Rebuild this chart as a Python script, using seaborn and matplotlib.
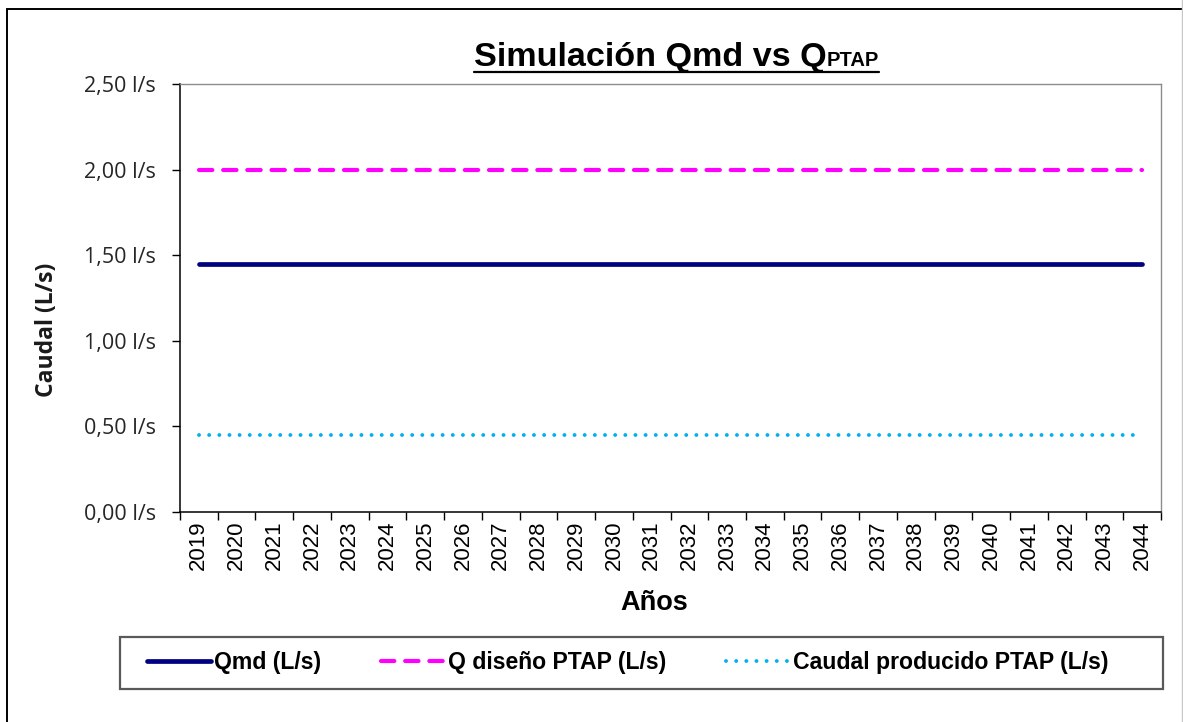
import numpy as np
import pandas as pd
import matplotlib
matplotlib.use("Agg")
import matplotlib.pyplot as plt
import seaborn as sns
from matplotlib.lines import Line2D
from matplotlib.patches import Rectangle
from matplotlib.ticker import FuncFormatter

# datos
years = [2019, 2020, 2021, 2022, 2023, 2024, 2025, 2026, 2027, 2028, 2029, 2030, 2031,
         2032, 2033, 2034, 2035, 2036, 2037, 2038, 2039, 2040, 2041, 2042, 2043, 2044]
qmd = [1.45, 1.45, 1.45, 1.45, 1.45, 1.45, 1.45, 1.45, 1.45, 1.45, 1.45, 1.45, 1.45,
       1.45, 1.45, 1.45, 1.45, 1.45, 1.45, 1.45, 1.45, 1.45, 1.45, 1.45, 1.45, 1.45]
q_diseno = [2.00, 2.00, 2.00, 2.00, 2.00, 2.00, 2.00, 2.00, 2.00, 2.00, 2.00, 2.00, 2.00,
            2.00, 2.00, 2.00, 2.00, 2.00, 2.00, 2.00, 2.00, 2.00, 2.00, 2.00, 2.00, 2.00]
q_producido = [0.45, 0.45, 0.45, 0.45, 0.45, 0.45, 0.45, 0.45, 0.45, 0.45, 0.45, 0.45, 0.45,
               0.45, 0.45, 0.45, 0.45, 0.45, 0.45, 0.45, 0.45, 0.45, 0.45, 0.45, 0.45, 0.45]
series_names = ["Qmd (L/s)", "Q diseño PTAP (L/s)", "Caudal producido PTAP (L/s)"]
y_ticks = [0.0, 0.5, 1.0, 1.5, 2.0, 2.5]

sns.set_theme(style="ticks")
plt.rcParams["font.family"] = ["Liberation Sans", "DejaVu Sans"]
plt.rcParams["text.color"] = "black"

W, H = 1183, 722
fig = plt.figure(figsize=(W / 100, H / 100), dpi=100)
ax = fig.add_axes([180 / W, 1 - 512 / H, (1161 - 180) / W, (512 - 84) / H])

pos = np.arange(len(years))
df = pd.DataFrame({"pos": pos, "qmd": qmd, "dis": q_diseno, "prod": q_producido})

sns.lineplot(data=df, x="pos", y="qmd", ax=ax, color="#000080", linewidth=3.4,
             label=series_names[0])
sns.lineplot(data=df, x="pos", y="dis", ax=ax, color="#FF00FF", linewidth=3.0,
             label=series_names[1])
sns.lineplot(data=df, x="pos", y="prod", ax=ax, color="#00B0F0", linewidth=2.8,
             label=series_names[2])

lines = ax.get_lines()
lines[0].set_solid_capstyle("round")
lines[1].set_dashes((3.2, 2.6))
lines[1].set_dash_capstyle("round")
lines[2].set_dashes((0.01, 2.6))
lines[2].set_dash_capstyle("round")

ax.set_xlim(-0.5, len(years) - 0.5)
ax.set_ylim(0, 2.5)
ax.set_yticks(y_ticks)
ax.yaxis.set_major_formatter(FuncFormatter(lambda v, p: f"{v:.2f} l/s".replace(".", ",")))
ax.tick_params(axis="y", length=6, width=1, color="black", pad=11.5,
               labelsize=15.5, labelcolor="#262626")
for t in ax.get_yticklabels():
    t.set_fontfamily(["Open Sans", "DejaVu Sans"])

# ticks entre categorías, etiquetas centradas
ax.set_xticks(np.arange(-0.5, len(years)), labels=[])
ax.set_xticks(pos, labels=[str(y) for y in years], minor=True)
ax.tick_params(axis="x", which="major", length=6, width=1, color="black")
ax.tick_params(axis="x", which="minor", length=0, pad=6, labelsize=16,
               labelrotation=90, labelcolor="black")
ax.set_xlabel("")
ax.set_ylabel("")

for s in ["left", "bottom"]:
    ax.spines[s].set_color("black")
    ax.spines[s].set_linewidth(1.1)
for s in ["top", "right"]:
    ax.spines[s].set_visible(True)
    ax.spines[s].set_color("#8c8c8c")
    ax.spines[s].set_linewidth(1.0)

ax.get_legend().remove()

# títulos de ejes
fig.text(654 / W, 1 - 603 / H, "Años", ha="center", va="center",
         fontsize=19.5, fontweight="bold")
fig.text(47 / W, 1 - 330 / H, "Caudal (L/s)", ha="center", va="center", rotation=90,
         fontsize=16.5, fontweight="bold", family=["Open Sans", "DejaVu Sans"],
         color="#1a1a1a")

# título con subíndice en versalitas y subrayado
renderer = fig.canvas.get_renderer()
x0 = 474 / W
base = 1 - 66 / H
t1 = fig.text(x0, base, "Simulación Qmd vs Q", ha="left", va="baseline",
              fontsize=24.6, fontweight="bold")
bb = t1.get_window_extent(renderer)
t2 = fig.text(bb.x1 / W, base, "PTAP", ha="left", va="baseline",
              fontsize=14.5, fontweight="bold")
bb2 = t2.get_window_extent(renderer)
uy = 1 - 72 / H
fig.add_artist(Line2D([x0, bb2.x1 / W], [uy, uy], color="black", linewidth=1.6,
                      transform=fig.transFigure))

# leyenda con marco propio
fig.add_artist(Rectangle((120 / W, 1 - 689 / H), (1163 - 120) / W, (689 - 637) / H,
                         transform=fig.transFigure, fill=False,
                         edgecolor="#595959", linewidth=1.6))
leg = fig.legend(handles=lines, labels=series_names, loc="center",
                 bbox_to_anchor=(628 / W, 1 - 663 / H), ncol=3, frameon=False,
                 handlelength=2.75, handletextpad=0.15, columnspacing=2.6,
                 prop={"size": 16.6, "weight": "bold"})

# borde exterior
fig.add_artist(Line2D([7 / W, 7 / W], [0, 1 - 9 / H], color="black", linewidth=1.4,
                      transform=fig.transFigure))
fig.add_artist(Line2D([7 / W, 1], [1 - 9 / H, 1 - 9 / H], color="black", linewidth=1.4,
                      transform=fig.transFigure))
fig.add_artist(Line2D([1181.5 / W, 1181.5 / W], [0, 1], color="#c8c8c8", linewidth=1.0,
                      transform=fig.transFigure))

fig.savefig("out.png", dpi=100)
plt.close(fig)
